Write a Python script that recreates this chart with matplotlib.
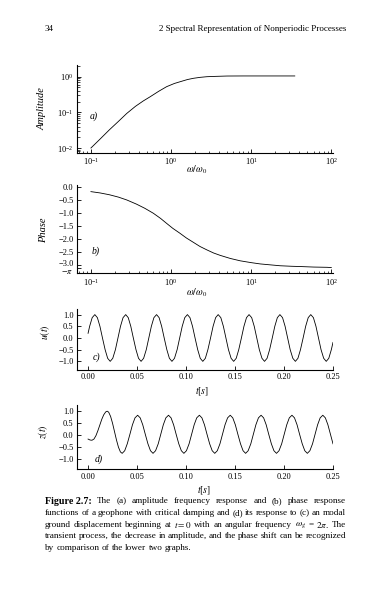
import matplotlib
matplotlib.use("Agg")
import matplotlib.pyplot as plt
import matplotlib.transforms as mtransforms
from matplotlib.ticker import LogLocator, NullFormatter

plt.rcParams['font.family'] = ['Liberation Serif', 'DejaVu Serif']
plt.rcParams['mathtext.fontset'] = 'stix'

# (a) amplitude response
w_amp = [0.1, 0.13, 0.17, 0.22, 0.28, 0.36, 0.45, 0.55, 0.7, 0.88, 1.1, 1.3, 1.6, 1.9,
         2.3, 2.8, 3.5, 5.0, 8.0, 15.0, 35.0]
amp = [0.0100, 0.0178, 0.0324, 0.0556, 0.0933, 0.148, 0.209, 0.275, 0.389, 0.525, 0.646,
       0.724, 0.832, 0.902, 0.959, 1.0, 1.02, 1.045, 1.05, 1.05, 1.05]

# (b) phase response
w_ph = [0.1, 0.13, 0.17, 0.22, 0.28, 0.37, 0.47, 0.6, 0.74, 0.88, 1.05, 1.29, 1.55, 1.9,
        2.3, 2.8, 3.4, 4.1, 5.5, 7.3, 10.0, 13.0, 18.0, 23.0, 32.0, 41.0, 60.0, 89.0, 100.0]
phase = [-0.19, -0.24, -0.31, -0.40, -0.51, -0.67, -0.83, -1.02, -1.22, -1.41, -1.60,
         -1.79, -1.97, -2.14, -2.30, -2.43, -2.55, -2.64, -2.76, -2.85, -2.92, -2.97,
         -3.01, -3.04, -3.06, -3.07, -3.09, -3.10, -3.11]

# (c) ground displacement u(t)
t_u = [0.0,
       0.0016, 0.0042, 0.0069, 0.0095, 0.0121, 0.0147, 0.0174, 0.0200, 0.0226, 0.0252, 0.0279, 0.0305,
       0.0331, 0.0357, 0.0384, 0.0410, 0.0436, 0.0462, 0.0489, 0.0515, 0.0541, 0.0567, 0.0594, 0.0620,
       0.0646, 0.0672, 0.0699, 0.0725, 0.0751, 0.0777, 0.0804, 0.0830, 0.0856, 0.0882, 0.0909, 0.0935,
       0.0961, 0.0987, 0.1014, 0.1040, 0.1066, 0.1092, 0.1119, 0.1145, 0.1171, 0.1197, 0.1223, 0.1250,
       0.1276, 0.1302, 0.1328, 0.1355, 0.1381, 0.1407, 0.1433, 0.1460, 0.1486, 0.1512, 0.1538, 0.1565,
       0.1591, 0.1617, 0.1643, 0.1670, 0.1696, 0.1722, 0.1748, 0.1775, 0.1801, 0.1827, 0.1853, 0.1880,
       0.1906, 0.1932, 0.1958, 0.1985, 0.2011, 0.2037, 0.2063, 0.2090, 0.2116, 0.2142, 0.2168, 0.2195,
       0.2221, 0.2247, 0.2273, 0.2300, 0.2326, 0.2352, 0.2378, 0.2405, 0.2431, 0.2457, 0.2483,
       0.2500]
u = [0.20,
     0.5, 0.87, 1.0, 0.87, 0.5, 0.0, -0.5, -0.87, -1.0, -0.87, -0.5, 0.0,
     0.5, 0.87, 1.0, 0.87, 0.5, 0.0, -0.5, -0.87, -1.0, -0.87, -0.5, 0.0,
     0.5, 0.87, 1.0, 0.87, 0.5, 0.0, -0.5, -0.87, -1.0, -0.87, -0.5, 0.0,
     0.5, 0.87, 1.0, 0.87, 0.5, 0.0, -0.5, -0.87, -1.0, -0.87, -0.5, 0.0,
     0.5, 0.87, 1.0, 0.87, 0.5, 0.0, -0.5, -0.87, -1.0, -0.87, -0.5, 0.0,
     0.5, 0.87, 1.0, 0.87, 0.5, 0.0, -0.5, -0.87, -1.0, -0.87, -0.5, 0.0,
     0.5, 0.87, 1.0, 0.87, 0.5, 0.0, -0.5, -0.87, -1.0, -0.87, -0.5, 0.0,
     0.5, 0.87, 1.0, 0.87, 0.5, 0.0, -0.5, -0.87, -1.0, -0.87, -0.5,
     -0.19]

# (d) geophone response z(t)
t_z = [0.000, 0.002, 0.004, 0.006, 0.008, 0.010, 0.012, 0.014, 0.016, 0.018, 0.0195,
       0.021, 0.023, 0.025, 0.027, 0.029, 0.031, 0.033,
       0.0348, 0.0374, 0.0400, 0.0427, 0.0453, 0.0479, 0.0506, 0.0532, 0.0558, 0.0584, 0.0611, 0.0637,
       0.0663, 0.0689, 0.0716, 0.0742, 0.0768, 0.0794, 0.0821, 0.0847, 0.0873, 0.0899, 0.0926, 0.0952,
       0.0978, 0.1004, 0.1031, 0.1057, 0.1083, 0.1109, 0.1136, 0.1162, 0.1188, 0.1214, 0.1241, 0.1267,
       0.1293, 0.1319, 0.1346, 0.1372, 0.1398, 0.1424, 0.1451, 0.1477, 0.1503, 0.1529, 0.1556, 0.1582,
       0.1608, 0.1634, 0.1661, 0.1687, 0.1713, 0.1739, 0.1766, 0.1792, 0.1818, 0.1844, 0.1871, 0.1897,
       0.1923, 0.1949, 0.1976, 0.2002, 0.2028, 0.2054, 0.2081, 0.2107, 0.2133, 0.2159, 0.2186, 0.2212,
       0.2238, 0.2264, 0.2291, 0.2317, 0.2343, 0.2369, 0.2396, 0.2422, 0.2448, 0.2474, 0.2500]
z = [-0.17, -0.21, -0.22, -0.17, -0.03, 0.18, 0.42, 0.66, 0.85, 0.97, 1.00,
     0.96, 0.78, 0.49, 0.14, -0.21, -0.51, -0.71,
     -0.77, -0.66, -0.37, 0.03, 0.43, 0.72, 0.83, 0.72, 0.43, 0.03, -0.37, -0.66,
     -0.77, -0.66, -0.37, 0.03, 0.43, 0.72, 0.83, 0.72, 0.43, 0.03, -0.37, -0.66,
     -0.77, -0.66, -0.37, 0.03, 0.43, 0.72, 0.83, 0.72, 0.43, 0.03, -0.37, -0.66,
     -0.77, -0.66, -0.37, 0.03, 0.43, 0.72, 0.83, 0.72, 0.43, 0.03, -0.37, -0.66,
     -0.77, -0.66, -0.37, 0.03, 0.43, 0.72, 0.83, 0.72, 0.43, 0.03, -0.37, -0.66,
     -0.77, -0.66, -0.37, 0.03, 0.43, 0.72, 0.83, 0.72, 0.43, 0.03, -0.37, -0.66,
     -0.77, -0.66, -0.37, 0.03, 0.43, 0.72, 0.83, 0.72, 0.43, 0.03, -0.37]

phase_ticks = [0.0, -0.5, -1.0, -1.5, -2.0, -2.5, -3.0, -3.14159]
phase_labels = ['0.0', '\u22120.5', '\u22121.0', '\u22121.5', '\u22122.0', '\u22122.5', '\u22123.0', r'$-\pi$']
amp_ticks = [0.01, 0.1, 1.0]
w_ticks = [0.1, 1.0, 10.0, 100.0]
t_ticks = [0.0, 0.05, 0.10, 0.15, 0.20, 0.25]
t_labels = ['0.00', '0.05', '0.10', '0.15', '0.20', '0.25']
u_ticks = [1.0, 0.5, 0.0, -0.5, -1.0]
u_labels = ['1.0', '0.5', '0.0', '\u22120.5', '\u22121.0']

caption = [
    ["Figure 2.7:", "The", "(a)", "amplitude", "frequency", "response", "and", "(b)", "phase", "response"],
    ["functions", "of", "a", "geophone", "with", "critical", "damping", "and", "(d)", "its", "response",
     "to", "(c)", "an", "modal"],
    ["ground", "displacement", "beginning", "at", "$t=0$", "with", "an", "angular", "frequency",
     r"$\omega_g$", "=", r"$2\pi$.", "The"],
    ["transient", "process,", "the", "decrease", "in", "amplitude,", "and", "the", "phase", "shift",
     "can", "be", "recognized"],
    ["by", "comparison", "of", "the", "lower", "two", "graphs."],
]

W, H = 391.0, 592.0
fig = plt.figure(figsize=(3.91, 5.92), dpi=100)


def box(left, top, right, bottom):
    return [left / W, 1 - bottom / H, (right - left) / W, (bottom - top) / H]


def style(ax):
    ax.spines['top'].set_visible(False)
    ax.spines['right'].set_visible(False)
    for s in ['left', 'bottom']:
        ax.spines[s].set_linewidth(0.8)
    ax.tick_params(which='major', direction='in', length=3, width=0.6, labelsize=6, pad=2.5)
    ax.tick_params(which='minor', direction='in', length=1.8, width=0.5)


# (a)
ax = fig.add_axes(box(77, 65, 333, 152.5))
style(ax)
ax.loglog(w_amp, amp, color='k', lw=0.6)
ax.set_xlim(0.067, 105)
ax.set_ylim(0.00748, 2.13)
ax.set_xticks(w_ticks)
ax.set_yticks(amp_ticks)
ax.xaxis.set_minor_locator(LogLocator(base=10, subs=range(2, 10)))
ax.yaxis.set_minor_locator(LogLocator(base=10, subs=range(2, 10)))
ax.xaxis.set_minor_formatter(NullFormatter())
ax.yaxis.set_minor_formatter(NullFormatter())
ax.set_ylabel('Amplitude', fontsize=7.5, style='italic')
ax.yaxis.set_label_coords(-0.117, 0.5)
ax.set_xlabel(r'$\omega/\omega_0$', fontsize=7)
ax.xaxis.set_label_coords(0.469, -0.13)
ax.text(0.051, 0.417, 'a)', transform=ax.transAxes, fontsize=7, style='italic', va='center')

# (b)
ax = fig.add_axes(box(77, 185, 333, 273.3))
style(ax)
ax.semilogx(w_ph, phase, color='k', lw=0.6)
ax.set_xlim(0.067, 105)
ax.set_ylim(-3.33, 0.065)
ax.set_xticks(w_ticks)
ax.xaxis.set_minor_locator(LogLocator(base=10, subs=range(2, 10)))
ax.xaxis.set_minor_formatter(NullFormatter())
ax.set_yticks(phase_ticks)
ax.set_yticklabels(phase_labels)
ylabs = ax.get_yticklabels()
ylabs[-2].set_transform(ylabs[-2].get_transform() +
                        mtransforms.ScaledTranslation(0, 1.5 / 100, fig.dpi_scale_trans))
ylabs[-1].set_transform(ylabs[-1].get_transform() +
                        mtransforms.ScaledTranslation(0, -2.5 / 100, fig.dpi_scale_trans))
ax.set_ylabel('Phase', fontsize=7.5, style='italic')
ax.yaxis.set_label_coords(-0.113, 0.49)
ax.set_xlabel(r'$\omega/\omega_0$', fontsize=7)
ax.xaxis.set_label_coords(0.469, -0.15)
ax.text(0.059, 0.253, 'b)', transform=ax.transAxes, fontsize=7, style='italic', va='center')

# (c)
ax = fig.add_axes(box(77, 309, 333, 370))
style(ax)
ax.plot(t_u, u, color='k', lw=0.6)
ax.set_xlim(-0.0113, 0.25)
ax.set_ylim(-1.37, 1.24)
ax.set_xticks(t_ticks)
ax.set_xticklabels(t_labels)
ax.set_yticks(u_ticks)
ax.set_yticklabels(u_labels)
ax.set_ylabel(r'$u(t)$', fontsize=7)
ax.yaxis.set_label_coords(-0.098, 0.62)
ax.set_xlabel(r'$t[s]$', fontsize=7)
ax.xaxis.set_label_coords(0.488, -0.25)
ax.text(0.0625, 0.217, 'c)', transform=ax.transAxes, fontsize=7, style='italic', va='center')

# (d)
ax = fig.add_axes(box(77, 405, 333, 469.3))
style(ax)
ax.plot(t_z, z, color='k', lw=0.6)
ax.set_xlim(-0.0113, 0.25)
ax.set_ylim(-1.44, 1.26)
ax.set_xticks(t_ticks)
ax.set_xticklabels(t_labels)
ax.set_yticks(u_ticks)
ax.set_yticklabels(u_labels)
ax.set_ylabel(r'$z(t)$', fontsize=7)
ax.yaxis.set_label_coords(-0.105, 0.58)
ax.set_xlabel(r'$t[s]$', fontsize=7)
ax.xaxis.set_label_coords(0.496, -0.24)
ax.text(0.07, 0.16, 'd)', transform=ax.transAxes, fontsize=7, style='italic', va='center')

# running head
fig.text(45 / W, 1 - 29 / H, '34', fontsize=6.5, va='center', ha='left')
fig.text(346 / W, 1 - 29 / H, '2 Spectral Representation of Nonperiodic Processes',
         fontsize=6.5, va='center', ha='right')

# justified caption
renderer = fig.canvas.get_renderer()
x0, x1 = 45.0, 346.0
y = 501.0
for i, words in enumerate(caption):
    items = []
    for wd in words:
        weight = 'bold' if wd == "Figure 2.7:" else 'normal'
        size = 7.2 if weight == 'bold' else 6.6
        tt = fig.text(0, 1 - y / H, wd, fontsize=size, weight=weight, va='center', ha='left')
        items.append(tt)
    widths = [tt.get_window_extent(renderer).width for tt in items]
    if i < len(caption) - 1:
        gap = (x1 - x0 - sum(widths)) / (len(items) - 1)
    else:
        gap = 2.2
    x = x0
    for tt, wdt in zip(items, widths):
        tt.set_x(x / W)
        x += wdt + gap
    y += 11.8

fig.savefig('out.png', dpi=100)
